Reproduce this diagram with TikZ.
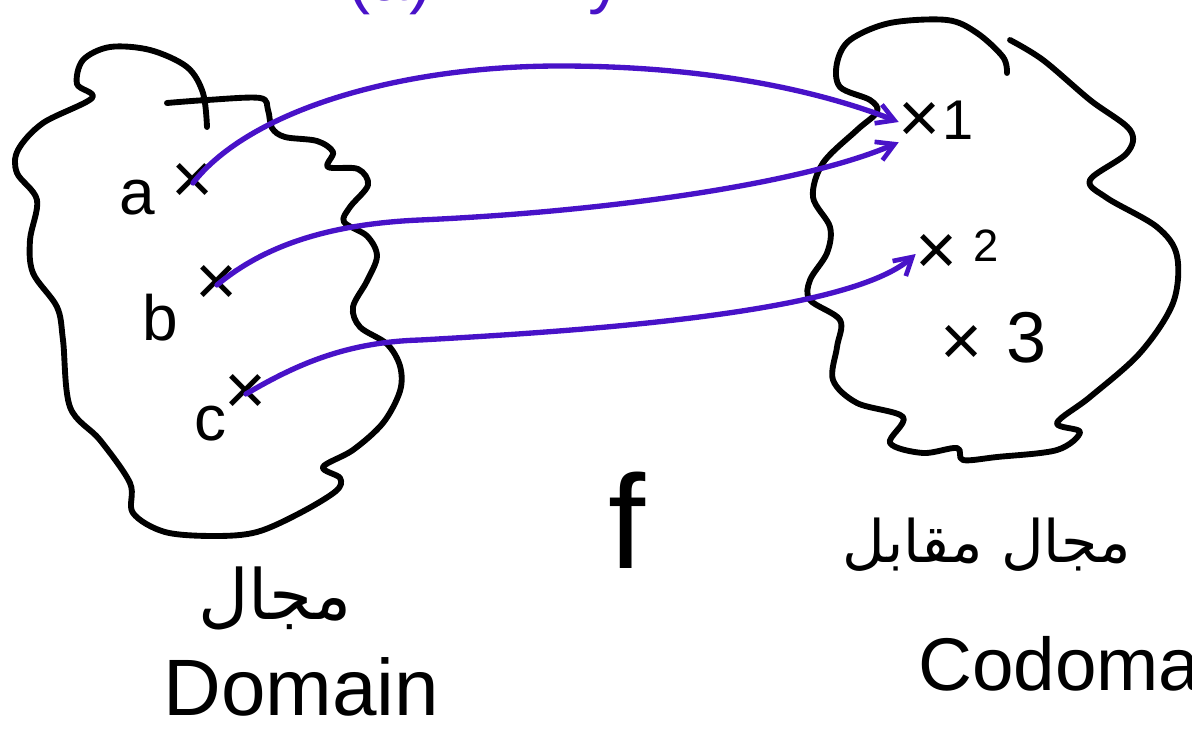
\documentclass[tikz,border=0pt]{standalone}
\usepackage{fontspec}
\setmainfont{Liberation Sans}
\newfontfamily\arabicfont[Script=Arabic]{DejaVu Sans}
\TeXXeTstate=1
\usetikzlibrary{arrows.meta}
\definecolor{pen}{RGB}{72,18,200}
\begin{document}
\begin{tikzpicture}[x=0.75pt,y=-0.75pt,
  blob/.style={line width=4.4pt, line join=round, line cap=round},
  mapto/.style={draw=pen, line width=4pt, line cap=round,
    -{Straight Barb[length=13pt,width=15pt,line width=3.5pt]}},
  crossmark/.style={inner sep=0pt, font=\fontsize{54}{54}\selectfont},
  hand/.style={inner sep=0pt, font=\fontsize{#1}{#1}\selectfont},
  hand/.default=40,
  artxt/.style={inner sep=0pt, font=\arabicfont\fontsize{#1}{#1}\selectfont}
]
\useasboundingbox (0,0) rectangle (1192,731);

% domain blob
\draw[blob] plot[smooth, tension=0.55] coordinates {
 (167,103) (207,100) (260,98) (268,110) (272,128) (285,137) (317,141) (333,152)
 (328,167) (358,169) (368,185) (350,207) (344,222) (367,236) (377,256) (367,281)
 (353,307) (360,327) (387,344) (400,366) (400,391) (383,423) (353,450) (323,467)
 (340,478) (336,491) (300,513) (257,532) (215,536) (165,532) (133,513) (130,483)
 (100,440) (70,407) (63,340) (57,307) (33,273) (30,240) (37,200) (17,173)
 (18,150) (43,123) (92,98) (77,84) (83,60) (110,47) (150,50) (187,67)
 (203,93) (207,127)};

% codomain blob
\draw[blob] plot[smooth, tension=0.55] coordinates {
 (1007,73) (1003,57) (977,33) (947,20) (890,23) (850,40) (837,63) (840,87)
 (870,100) (877,112) (857,130) (823,163) (813,197) (830,227) (827,253) (810,280)
 (810,300) (840,320) (837,347) (833,380) (857,403) (903,417) (890,443) (923,453)
 (957,448) (963,460) (997,457) (1057,450) (1080,432) (1057,423) (1090,397)
 (1140,353) (1173,303) (1177,256) (1157,227) (1107,198) (1090,180) (1127,153)
 (1130,130) (1090,100) (1043,60) (1010,40)};

% domain elements
\node[hand=48] (la) at (137,198) {a};
\node[crossmark] (ax) at (193,183) {×};
\node[hand=48] (lb) at (160,318) {b};
\node[crossmark] (bx) at (217,285) {×};
\node[hand=48] (lc) at (210,424) {c};
\node[crossmark] (cx) at (246,394) {×};

% codomain elements
\node[crossmark] (x1) at (920,122) {×};
\node[hand=42] (l1) at (958,120) {1};
\node[crossmark] (x2) at (937,254) {×};
\node[hand=34] (l2) at (986,246) {2};
\node[crossmark] (x3) at (962,345) {×};
\node[hand=54] (l3) at (1027,338) {3};

% arrows
\draw[mapto] (ax.center) .. controls (250,110) and (400,66) .. (560,66)
  .. controls (720,66) and (830,95) .. (x1.west);
\draw[mapto] (bx.center) .. controls (265,245) and (330,224) .. (420,220)
  .. controls (600,212) and (800,185) .. (x1.south west);
\draw[mapto] (cx.center) .. controls (300,362) and (350,342) .. (420,340)
  .. controls (600,330) and (850,312) .. (x2.west);

% function name
\node[hand=100, anchor=center] (f) at (627,520) {f};

% labels
\node[artxt=52] (domar) at (275,598) {\beginR مجال\endR};
\node[hand=60, anchor=base west] (dom) at (163,715) {Domain};
\node[artxt=44] (codar) at (987,545) {\beginR مجال مقابل\endR};
\node[hand=56, anchor=base west] (cod) at (918,690) {Codomain};

% title (cut off at the top)
\node[hand=52, anchor=base west, text=pen] (title) at (305,1) {F(a)\ \ \ =\ \ \ y};
\end{tikzpicture}
\end{document}
